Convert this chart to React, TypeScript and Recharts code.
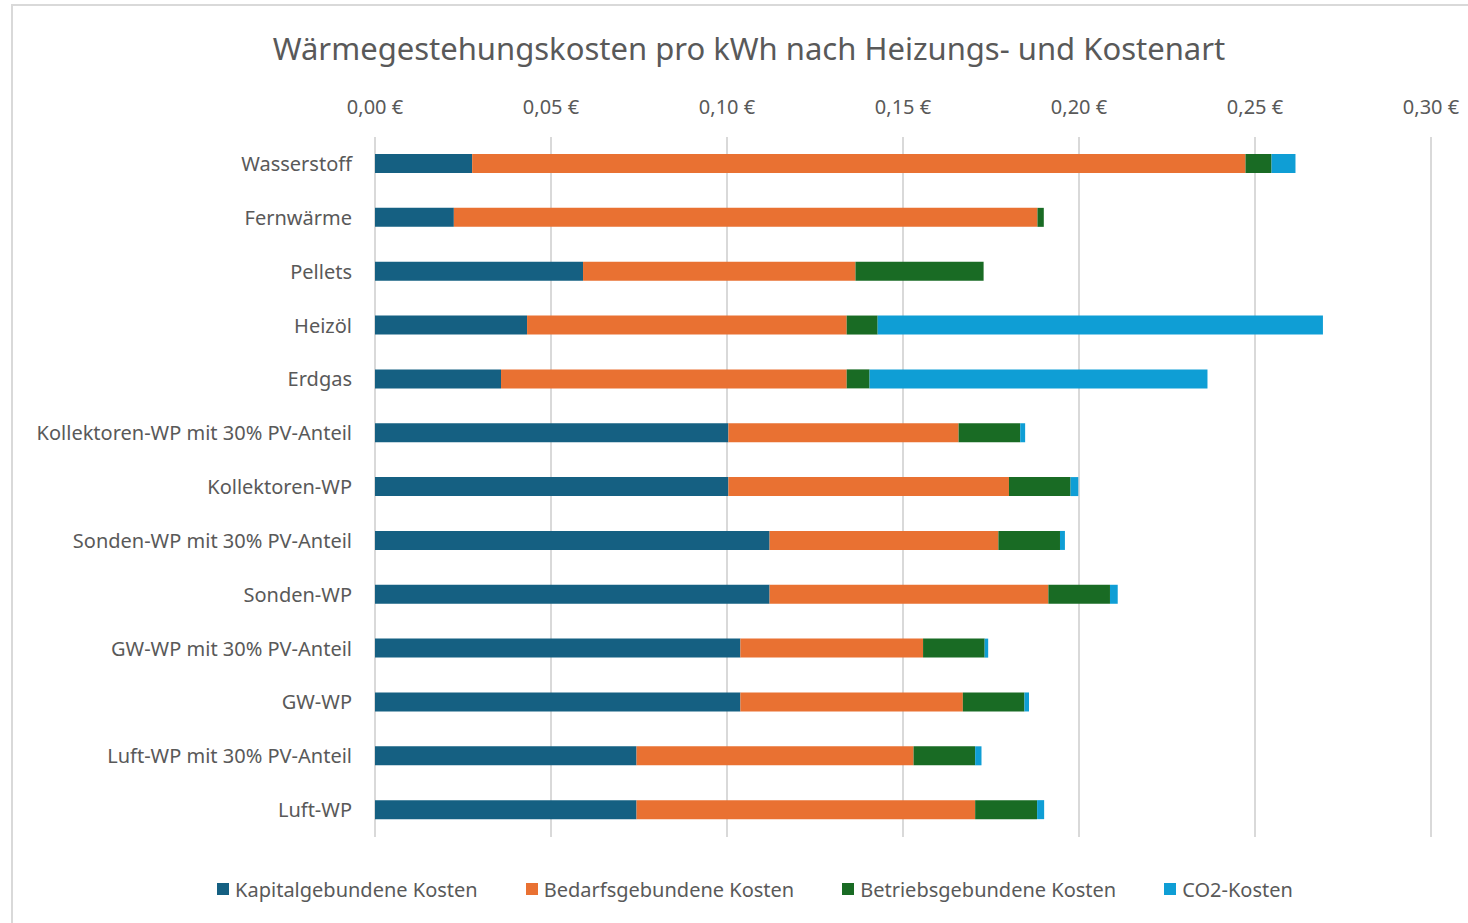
import React from "react";
import { Bar, BarChart, CartesianGrid, Legend, XAxis, YAxis } from "recharts";

const categories = [
  "Wasserstoff",
  "Fernwärme",
  "Pellets",
  "Heizöl",
  "Erdgas",
  "Kollektoren-WP mit 30% PV-Anteil",
  "Kollektoren-WP",
  "Sonden-WP mit 30% PV-Anteil",
  "Sonden-WP",
  "GW-WP mit 30% PV-Anteil",
  "GW-WP",
  "Luft-WP mit 30% PV-Anteil",
  "Luft-WP",
];

const kapital = [0.0276, 0.0224, 0.0591, 0.0432, 0.0358, 0.1004, 0.1004, 0.1121, 0.1121, 0.1038, 0.1038, 0.0743, 0.0743];
const bedarf = [0.2197, 0.1658, 0.0774, 0.0908, 0.0982, 0.0654, 0.0797, 0.065, 0.0792, 0.0519, 0.0632, 0.0787, 0.0962];
const betrieb = [0.0074, 0.0018, 0.0364, 0.0088, 0.0065, 0.0175, 0.0175, 0.0175, 0.0175, 0.0175, 0.0175, 0.0175, 0.0176];
const co2 = [0.0068, 0, 0, 0.1265, 0.096, 0.0014, 0.0022, 0.0014, 0.0022, 0.001, 0.0013, 0.0018, 0.002];

const xTicks = [0, 0.05, 0.1, 0.15, 0.2, 0.25, 0.3];

const series = [
  { key: "kapital", name: "Kapitalgebundene Kosten", color: "#156082" },
  { key: "bedarf", name: "Bedarfsgebundene Kosten", color: "#E97132" },
  { key: "betrieb", name: "Betriebsgebundene Kosten", color: "#196B24" },
  { key: "co2", name: "CO2-Kosten", color: "#0F9ED5" },
];

const data = categories.map((name, i) => ({
  name,
  kapital: kapital[i],
  bedarf: bedarf[i],
  betrieb: betrieb[i],
  co2: co2[i],
}));

const font = "'Noto Sans', sans-serif";
const textColor = "#595959";

const euro = (v: number) => v.toFixed(2).replace(".", ",") + " €";

function LegendRow() {
  return (
    <div style={{ display: "flex", justifyContent: "center", gap: 48, height: 30, alignItems: "center", fontFamily: font, fontSize: 20, color: textColor }}>
      {series.map((s) => (
        <div key={s.key} style={{ display: "flex", alignItems: "center", gap: 6 }}>
          <span style={{ width: 12, height: 12, background: s.color, display: "inline-block" }} />
          <span>{s.name}</span>
        </div>
      ))}
    </div>
  );
}

export default function App() {
  return (
    <div style={{ position: "absolute", left: 0, top: 0, width: 1468, height: 923, overflow: "hidden", background: "#fff" }}>
      <div style={{ position: "absolute", left: 11, top: 4, width: 1480, height: 940, border: "2px solid #d9d9d9", boxSizing: "border-box" }} />
      <div style={{ position: "absolute", left: 12, top: 27, width: 1474, textAlign: "center", fontFamily: font, fontSize: 31, color: textColor }}>
        Wärmegestehungskosten pro kWh nach Heizungs- und Kostenart
      </div>
      <div style={{ position: "absolute", left: 0, top: 0 }}>
        <BarChart
          width={1468}
          height={923}
          data={data}
          layout="vertical"
          margin={{ top: 97, right: 37, bottom: 56, left: 0 }}
          barSize={19}
        >
          <CartesianGrid horizontal={false} stroke="#d9d9d9" strokeWidth={2} />
          <XAxis
            type="number"
            orientation="top"
            domain={[0, 0.3]}
            ticks={xTicks}
            tickFormatter={euro}
            axisLine={false}
            tickLine={false}
            tickMargin={17}
            height={40}
            tick={{ fill: textColor, fontSize: 20, fontFamily: font }}
          />
          <YAxis
            type="category"
            dataKey="name"
            width={375}
            axisLine={false}
            tickLine={false}
            tickMargin={17}
            interval={0}
            tick={{ fill: textColor, fontSize: 20, fontFamily: font }}
          />
          {series.map((s) => (
            <Bar key={s.key} dataKey={s.key} name={s.name} stackId="a" fill={s.color} isAnimationActive={false} />
          ))}
          <Legend verticalAlign="bottom" content={() => <LegendRow />} wrapperStyle={{ top: 874, left: 0, width: 1510, height: 30 }} />
        </BarChart>
      </div>
    </div>
  );
}
